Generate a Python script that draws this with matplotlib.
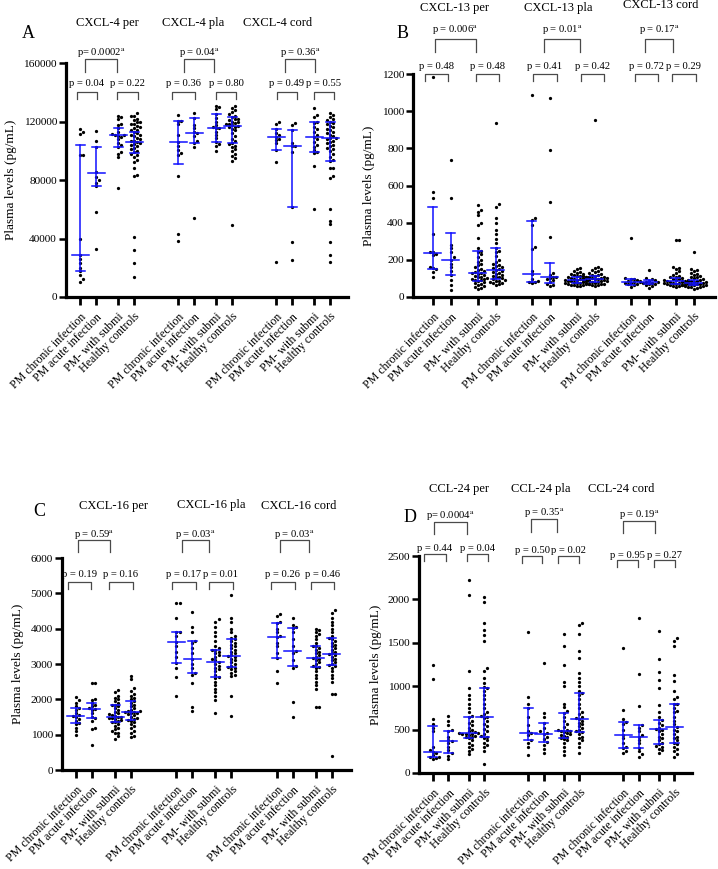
import numpy as np
import matplotlib
matplotlib.use('Agg')
import matplotlib.pyplot as plt
from matplotlib.transforms import ScaledTranslation

plt.rcParams['font.family'] = ['Liberation Serif', 'DejaVu Serif']
plt.rcParams['mathtext.fontset'] = 'stix'

categories = ['PM chronic infection', 'PM acute infection', 'PM- with submi', 'Healthy controls']
compartments = ['per', 'pla', 'cord']
ylabel = 'Plasma levels (pg/mL)'

# ---------------- CXCL-4 (panel A) ----------------
cxcl4_per = [
    [114700, 113000, 111500, 97000, 97000, 39400, 28700, 26000, 23000, 20000, 17500, 15000, 12500, 10500],
    [113500, 106900, 102800, 85300, 81900, 80000, 78000, 75900, 58300, 32600],
    [124000, 122900, 121500, 118300, 117500, 115300, 112500, 111500, 110800, 110800, 110000, 109500,
     107800, 105500, 104000, 102400, 98900, 97800, 95500, 74700],
    [126000, 124000, 124000, 122000, 121000, 120000, 119500, 118500, 118000, 117000, 116000, 115500,
     114500, 114000, 113000, 112000, 111000, 110500, 110000, 109000, 108000, 107000, 106500, 106000,
     105000, 104500, 104000, 103000, 102000, 101000, 100000, 99000, 98000, 97000, 96000, 94000, 92000,
     88400, 83400, 82700, 41300, 32100, 23000, 13400],
]
cxcl4_pla = [
    [124500, 120600, 120600, 118000, 111000, 105800, 103000, 100500, 98500, 97000, 82700, 43100, 38500],
    [125600, 122200, 117600, 115300, 112500, 111900, 110100, 107000, 105100, 102400, 53800],
    [130600, 129700, 128300, 125100, 122200, 119900, 117600, 116500, 115300, 115300, 113100, 110800,
     108500, 106200, 104600, 103500, 99800],
    [130500, 129500, 128000, 126500, 125000, 124000, 123000, 122000, 121500, 121000, 120000, 119500,
     119000, 118500, 118000, 117500, 117000, 116500, 116000, 115000, 114000, 112000, 110000, 108000,
     106500, 105500, 104500, 103500, 102500, 101000, 99500, 98000, 96500, 95000, 93000, 49200],
]
cxcl4_cord = [
    [119900, 118300, 114700, 111900, 111000, 109600, 108000, 107400, 105100, 100500, 92100, 24100],
    [119200, 117600, 114200, 105100, 103500, 103000, 99400, 61800, 37800, 25300],
    [129000, 124500, 123300, 119900, 119000, 116500, 115000, 113100, 111000, 109200, 108000, 106200,
     104000, 102800, 100500, 99400, 98300, 89600, 60000],
    [125800, 124200, 123000, 122000, 121000, 120000, 119000, 118000, 117000, 116000, 115000, 114000,
     113000, 112000, 111000, 110000, 109000, 108500, 108000, 107000, 106000, 105000, 104000, 103000,
     102000, 101000, 100000, 98000, 96000, 94000, 93000, 88400, 88000, 82700, 81200, 60000, 52200,
     49900, 37800, 28700, 24100],
]
# (median, q1, q3) as drawn
cxcl4_per_stats = [(28700, 17800, 103900), (85000, 75900, 102800), (110800, 102400, 115300), (106200, 98200, 113000)]
cxcl4_pla_stats = [(105800, 90700, 120600), (111900, 105100, 122200), (115300, 106200, 125100), (117000, 105000, 123000)]
cxcl4_cord_stats = [(109600, 100500, 114700), (103500, 61800, 114200), (109200, 99400, 119900), (108500, 93000, 119900)]
cxcl4_p_top = ['p= 0.0002$^{\\mathrm{a}}$', 'p = 0.04$^{\\mathrm{a}}$', 'p = 0.36$^{\\mathrm{a}}$']
cxcl4_p_pairs = [('p = 0.04', 'p = 0.22'), ('p = 0.36', 'p = 0.80'), ('p = 0.49', 'p = 0.55')]

# ---------------- CXCL-13 (panel B) ----------------
cxcl13_per = [
    [1182, 567, 531, 337, 244, 240, 231, 225, 163, 158, 150, 136, 109],
    [737, 531, 280, 262, 240, 215, 199, 180, 160, 140, 118, 91, 65, 38],
    [495, 468, 459, 440, 397, 387, 319, 262, 250, 240, 230, 215, 200, 190, 180, 170, 160, 150, 145,
     140, 135, 131, 128, 125, 120, 115, 110, 105, 100, 98, 95, 92, 90, 85, 80, 75, 70, 65, 60, 55, 50, 45],
    [934, 499, 486, 423, 397, 360, 340, 310, 290, 262, 250, 240, 220, 200, 190, 180, 170, 165, 160,
     155, 150, 145, 140, 135, 130, 125, 120, 115, 110, 105, 100, 95, 90, 88, 85, 80, 78, 75, 70, 65],
]
cxcl13_pla = [
    [1087, 423, 414, 387, 271, 260, 140, 122, 95, 88, 83, 80, 78],
    [1069, 791, 513, 325, 130, 120, 110, 109, 100, 95, 90, 80, 70, 65, 60],
    [155, 148, 140, 135, 130, 125, 122, 118, 115, 112, 110, 108, 105, 102, 100, 98, 96, 94, 92, 90,
     88, 86, 84, 82, 80, 78, 76, 74, 72, 70, 68, 66, 64, 62, 60, 58],
    [952, 160, 155, 150, 145, 140, 135, 130, 125, 120, 118, 115, 112, 110, 108, 106, 104, 102, 100,
     98, 96, 94, 92, 90, 88, 86, 84, 82, 80, 78, 75, 72, 70, 68, 65, 62, 60],
]
cxcl13_cord = [
    [316, 100, 98, 95, 90, 85, 82, 80, 78, 76, 72, 68, 62, 56],
    [145, 100, 95, 92, 88, 85, 82, 80, 78, 75, 72, 70, 65, 60, 50],
    [307, 305, 163, 158, 150, 140, 130, 120, 115, 110, 105, 100, 98, 95, 92, 90, 88, 86, 84, 82, 80,
     78, 76, 74, 72, 70, 68, 66, 64, 62, 60, 58, 55],
    [244, 150, 145, 140, 130, 125, 120, 115, 110, 105, 100, 96, 92, 90, 88, 86, 84, 82, 80, 78, 76,
     74, 72, 70, 68, 66, 64, 62, 60, 58, 56, 54, 52, 50, 45],
]
cxcl13_per_stats = [(235, 152, 483), (199, 118, 343), (131, 85, 247), (145, 95, 262)]
cxcl13_pla_stats = [(122, 82, 409), (109, 78, 181), (90, 75, 105), (98, 80, 112)]
cxcl13_cord_stats = [(81, 62, 98), (81, 68, 92), (86, 68, 100), (74, 62, 92)]
cxcl13_p_top = ['p = 0.006$^{\\mathrm{a}}$', 'p = 0.01$^{\\mathrm{a}}$', 'p = 0.17$^{\\mathrm{a}}$']
cxcl13_p_pairs = [('p = 0.48', 'p = 0.48'), ('p = 0.41', 'p = 0.42'), ('p = 0.72', 'p = 0.29')]

# ---------------- CXCL-16 (panel C) ----------------
cxcl16_per = [
    [2057, 1980, 1900, 1800, 1764, 1700, 1600, 1550, 1528, 1500, 1450, 1400, 1321, 1300, 1200, 1100, 991],
    [2472, 2472, 2000, 1980, 1886, 1850, 1800, 1750, 1726, 1700, 1600, 1500, 1462, 1400, 1179, 1150, 708],
    [2264, 2200, 2100, 2050, 2000, 1950, 1900, 1850, 1840, 1800, 1750, 1700, 1650, 1600, 1580, 1550,
     1530, 1510, 1500, 1480, 1460, 1440, 1420, 1400, 1368, 1350, 1300, 1250, 1200, 1150, 1100, 1050,
     1038, 950, 868],
    [2660, 2566, 2311, 2250, 2150, 2100, 2050, 2000, 1953, 1900, 1850, 1800, 1750, 1700, 1680, 1660,
     1651, 1640, 1620, 1600, 1580, 1550, 1500, 1480, 1450, 1420, 1400, 1350, 1300, 1250, 1200, 1100,
     1050, 950, 924],
]
cxcl16_pla = [
    [4736, 4736, 4292, 3915, 3900, 3800, 3632, 3500, 3349, 3200, 3019, 2900, 2623, 2094],
    [4481, 4057, 3900, 3651, 3600, 3450, 3300, 3141, 3000, 2900, 2736, 2700, 2453, 1792, 1679],
    [4264, 4200, 4050, 3900, 3800, 3650, 3500, 3450, 3400, 3396, 3350, 3300, 3250, 3200, 3150, 3100,
     3066, 3000, 2950, 2900, 2850, 2800, 2700, 2641, 2600, 2500, 2400, 2300, 2200, 2100, 1981, 1622],
    [4962, 4292, 4200, 4000, 3900, 3800, 3750, 3698, 3650, 3600, 3550, 3500, 3450, 3400, 3350, 3300,
     3250, 3226, 3200, 3150, 3100, 3050, 3000, 2950, 2924, 2900, 2850, 2800, 2750, 2700, 2650, 2094, 1528],
]
cxcl16_cord = [
    [4415, 4350, 4200, 4151, 4000, 3900, 3800, 3773, 3600, 3500, 3300, 3179, 2811, 2472],
    [4311, 4100, 4050, 4010, 3900, 3700, 3500, 3377, 3300, 3100, 2953, 2900, 1915, 1490],
    [4000, 3950, 3900, 3850, 3800, 3700, 3600, 3519, 3500, 3450, 3400, 3350, 3300, 3250, 3200, 3179,
     3150, 3100, 3050, 3000, 2950, 2924, 2900, 2800, 2700, 2600, 2500, 2400, 2300, 1792, 1792],
    [4528, 4450, 4300, 4200, 4100, 4000, 3900, 3800, 3726, 3700, 3650, 3600, 3550, 3500, 3450, 3400,
     3350, 3300, 3283, 3250, 3200, 3150, 3100, 3050, 3000, 2972, 2950, 2900, 2800, 2700, 2600, 2500,
     2151, 2151, 406],
]
cxcl16_per_stats = [(1528, 1321, 1764), (1726, 1462, 1886), (1509, 1368, 1840), (1651, 1420, 1953)]
cxcl16_pla_stats = [(3632, 3019, 3915), (3141, 2736, 3651), (3066, 2641, 3396), (3226, 2924, 3698)]
cxcl16_cord_stats = [(3773, 3179, 4151), (3377, 2953, 4010), (3179, 2924, 3519), (3283, 2972, 3726)]
cxcl16_p_top = ['p = 0.59$^{\\mathrm{a}}$', 'p = 0.03$^{\\mathrm{a}}$', 'p = 0.03$^{\\mathrm{a}}$']
cxcl16_p_pairs = [('p = 0.19', 'p = 0.16'), ('p = 0.17', 'p = 0.01'), ('p = 0.26', 'p = 0.46')]

# ---------------- CCL-24 (panel D) ----------------
ccl24_per = [
    [1244, 1083, 618, 560, 520, 480, 300, 260, 246, 230, 210, 190, 188, 170, 161],
    [657, 600, 550, 500, 488, 420, 380, 369, 340, 300, 260, 227, 200, 161],
    [2223, 2050, 1179, 983, 900, 850, 800, 745, 700, 660, 641, 600, 580, 550, 520, 500, 480, 470, 460,
     457, 455, 450, 445, 440, 430, 420, 410, 400, 380, 350, 320, 300, 280, 250, 215],
    [2031, 1973, 1724, 1650, 1590, 1524, 1206, 1180, 1100, 1033, 990, 975, 950, 900, 850, 800, 750,
     700, 680, 660, 649, 630, 600, 570, 540, 510, 480, 450, 430, 419, 400, 380, 350, 320, 300, 250, 104],
]
ccl24_pla = [
    [1621, 872, 800, 752, 650, 550, 480, 457, 440, 380, 350, 300, 207],
    [1263, 688, 650, 572, 520, 480, 460, 446, 420, 390, 353, 320, 280, 234],
    [1597, 1463, 1244, 1052, 1000, 800, 760, 720, 688, 650, 600, 560, 530, 500, 490, 487, 480, 470,
     460, 450, 440, 430, 420, 400, 390, 380, 350, 300, 250, 207],
    [1732, 1700, 1597, 1406, 1321, 1156, 1100, 1050, 1000, 950, 918, 900, 850, 800, 750, 700, 680,
     650, 630, 618, 600, 580, 560, 540, 520, 500, 480, 469, 450, 420, 400, 380, 350, 300, 227],
]
ccl24_cord = [
    [1436, 726, 620, 584, 560, 500, 438, 400, 350, 300, 284, 250, 234],
    [1782, 1141, 772, 553, 520, 480, 440, 419, 380, 340, 292, 250, 220, 188],
    [1640, 1313, 1167, 1071, 983, 783, 700, 650, 611, 580, 550, 520, 507, 500, 480, 450, 420, 400,
     380, 350, 330, 310, 300, 280, 260, 227],
    [1552, 1521, 1463, 1129, 1060, 950, 872, 850, 800, 791, 750, 720, 700, 650, 600, 560, 534, 500,
     480, 450, 420, 400, 380, 346, 330, 300, 280, 250, 220, 188],
]
ccl24_per_stats = [(246, 190, 541), (369, 227, 488), (457, 400, 641), (649, 419, 975)]
ccl24_pla_stats = [(457, 380, 752), (446, 353, 572), (487, 400, 688), (618, 469, 918)]
ccl24_cord_stats = [(438, 284, 584), (419, 292, 553), (507, 330, 611), (534, 346, 791)]
ccl24_p_top = ['p= 0.0004$^{\\mathrm{a}}$', 'p = 0.35$^{\\mathrm{a}}$', 'p = 0.19$^{\\mathrm{a}}$']
ccl24_p_pairs = [('p = 0.44', 'p = 0.04'), ('p = 0.50', 'p = 0.02'), ('p = 0.95', 'p = 0.27')]

# ---------------- layout ----------------
W, H = 718, 869
fig = plt.figure(figsize=(W / 100, H / 100), dpi=100)
BLUE = '#1010ff'
GREY = '#4a4a4a'


def swarm(vals, px_per_val, d=3.1):
    vals = np.asarray(vals, float)
    ys = vals * px_per_val
    order = np.argsort(vals)
    px, py = [], []
    xs = np.zeros(len(vals))
    for i in order:
        y = ys[i]
        for k in range(200):
            cand = ((k + 1) // 2) * d * (1 if k % 2 == 1 else -1) if k else 0.0
            ok = True
            for a, b in zip(px, py):
                if (a - cand) ** 2 + (b - y) ** 2 < d * d * 0.95:
                    ok = False
                    break
            if ok:
                xs[i] = cand
                px.append(cand)
                py.append(y)
                break
    return xs


def panel(rect, ymax, ystep, xlim, base, gstep, sets, stats, name, title_xy, letter, letter_xy,
          ylab_x, p_top, p_pairs, top_geo, pair_geo):
    l, t, r, b = rect
    ax = fig.add_axes([l / W, 1 - b / H, (r - l) / W, (b - t) / H])
    ax.set_xlim(*xlim)
    ax.set_ylim(0, ymax)
    unit_px = (r - l) / (xlim[1] - xlim[0])
    ppv = (b - t) / ymax
    positions = []
    for g in range(3):
        for k in range(4):
            pos = base[k] + gstep * g
            positions.append(pos)
            vals = np.asarray(sets[g][k], float)
            offs = swarm(vals, ppv)
            ax.scatter(pos + offs / unit_px, vals, s=5.5, c='black', linewidths=0, zorder=3, clip_on=False)
            med, q1, q3 = stats[g][k]
            hw, cw = 8.5 / unit_px, 4.5 / unit_px
            ax.plot([pos - hw, pos + hw], [med, med], color=BLUE, lw=1.1, zorder=4)
            ax.plot([pos, pos], [q1, q3], color=BLUE, lw=1.1, zorder=4)
            for q in (q1, q3):
                ax.plot([pos - cw, pos + cw], [q, q], color=BLUE, lw=1.1, zorder=4)
    for s in ('top', 'right'):
        ax.spines[s].set_visible(False)
    for s in ('left', 'bottom'):
        ax.spines[s].set_linewidth(2.3)
    ax.set_yticks(np.arange(0, ymax + 1, ystep))
    ax.set_yticklabels([str(int(v)) for v in np.arange(0, ymax + 1, ystep)])
    ax.tick_params(axis='y', length=5, width=1.8, labelsize=8.2, pad=1.5)
    ax.set_xticks(positions)
    labs = ax.set_xticklabels(categories * 3, rotation=45, ha='right', va='top',
                              rotation_mode='anchor')
    shift = ScaledTranslation(3 / 100, 0, fig.dpi_scale_trans)
    for lab in labs:
        lab.set_transform(lab.get_transform() + shift)
    ax.tick_params(axis='x', length=6, width=2, labelsize=8.6, pad=4)
    ax.set_ylabel(ylabel, fontsize=9.5)
    ax.yaxis.set_label_coords(ylab_x, 0.5)
    for i, c in enumerate(compartments):
        fig.text(title_xy[i][0] / W, 1 - title_xy[i][1] / H, f'{name} {c}', ha='center', va='center',
                 fontsize=9)
    fig.text(letter_xy[0] / W, 1 - letter_xy[1] / H, letter, ha='center', va='center', fontsize=13)
    for g in range(3):
        x1, x2, yt, yb, ytx = top_geo[g]
        ax.plot([x1, x1, x2, x2], [yb, yt, yt, yb], color=GREY, lw=0.9, clip_on=False)
        ax.text((x1 + x2) / 2, ytx, p_top[g], ha='center', va='center', fontsize=7.7)
        for j in range(2):
            x1, x2, yt, yb, ytx = pair_geo[g][j]
            ax.plot([x1, x1, x2, x2], [yb, yt, yt, yb], color=GREY, lw=0.9, clip_on=False)
            ax.text((x1 + x2) / 2, ytx, p_pairs[g][j], ha='center', va='center', fontsize=7.7)
    return ax


# Panel A
lowA = (140200, 135400, 146300)
panel((66, 63, 348, 297), 160000, 40000, (-0.875, 16.75), [0, 1, 2.375, 3.375], 6.125,
      [cxcl4_per, cxcl4_pla, cxcl4_cord], [cxcl4_per_stats, cxcl4_pla_stats, cxcl4_cord_stats],
      'CXCL-4', [(107, 23), (193, 23), (278, 23)], 'A', (28, 33), -0.174,
      cxcl4_p_top, cxcl4_p_pairs,
      [(0.31, 2.31, 162700, 153800, 166900), (6.5, 8.375, 162700, 153800, 166900),
       (12.8, 14.7, 162700, 153800, 166900)],
      [[(-0.19, 1.06) + lowA, (2.31, 3.625) + lowA],
       [(5.75, 7.19) + lowA, (8.5, 9.75) + lowA],
       [(12.3, 13.56) + lowA, (14.6, 15.9) + lowA]])

# Panel B
lowB = (1200, 1162, 1238)
topB = (1388, 1318, 1437)
panel((413, 74, 715, 297), 1200, 200, (-1.11, 15.67), [0, 1, 2.5, 3.5], 5.5,
      [cxcl13_per, cxcl13_pla, cxcl13_cord], [cxcl13_per_stats, cxcl13_pla_stats, cxcl13_cord_stats],
      'CXCL-13', [(454, 8), (558, 8), (661, 5)], 'B', (403, 33), -0.126,
      cxcl13_p_top, cxcl13_p_pairs,
      [(0.11, 2.39) + topB, (6.17, 8.17) + topB, (11.78, 13.33) + topB],
      [[(-0.44, 0.83) + lowB, (2.39, 3.67) + lowB],
       [(5.56, 6.89) + lowB, (8.22, 9.5) + lowB],
       [(11.22, 12.5) + lowB, (13.28, 14.6) + lowB]])

# Panel C
lowC = (5320, 5122, 5540)
topC = (6509, 6169, 6650)
panel((62, 558, 351, 770), 6000, 1000, (-0.875, 17.2), [0, 1, 2.44, 3.44], 6.28,
      [cxcl16_per, cxcl16_pla, cxcl16_cord], [cxcl16_per_stats, cxcl16_pla_stats, cxcl16_cord_stats],
      'CXCL-16', [(113, 506), (211, 505), (299, 506)], 'C', (39, 511), -0.131,
      cxcl16_p_top, cxcl16_p_pairs,
      [(0.125, 2.125) + topC, (6.625, 8.31) + topC, (12.75, 14.56) + topC],
      [[(-0.5, 0.94) + lowC, (2.06, 3.56) + lowC],
       [(6.0, 7.5) + lowC, (8.31, 9.81) + lowC],
       [(12.19, 13.69) + lowC, (14.69, 16.125) + lowC]])

# Panel D
panel((419, 556, 692, 773), 2500, 500, (-0.9, 16.7), [0, 1, 2.3, 3.3], 6.13,
      [ccl24_per, ccl24_pla, ccl24_cord], [ccl24_per_stats, ccl24_pla_stats, ccl24_cord_stats],
      'CCL-24', [(459, 489), (541, 489), (621, 489)], 'D', (410, 518), -0.136,
      ccl24_p_top, ccl24_p_pairs,
      [(0.06, 2.19, 2892, 2753, 2961), (6.32, 8.0, 2926, 2776, 2995), (12.26, 14.32, 2903, 2765, 2972)],
      [[(-0.58, 0.84, 2523, 2442, 2592), (2.19, 3.55, 2523, 2442, 2592)],
       [(5.74, 7.03, 2500, 2419, 2569), (8.06, 9.42, 2500, 2419, 2569)],
       [(11.87, 13.23, 2454, 2373, 2511), (14.26, 15.61, 2454, 2373, 2511)]])

fig.savefig('out.png', dpi=100)
